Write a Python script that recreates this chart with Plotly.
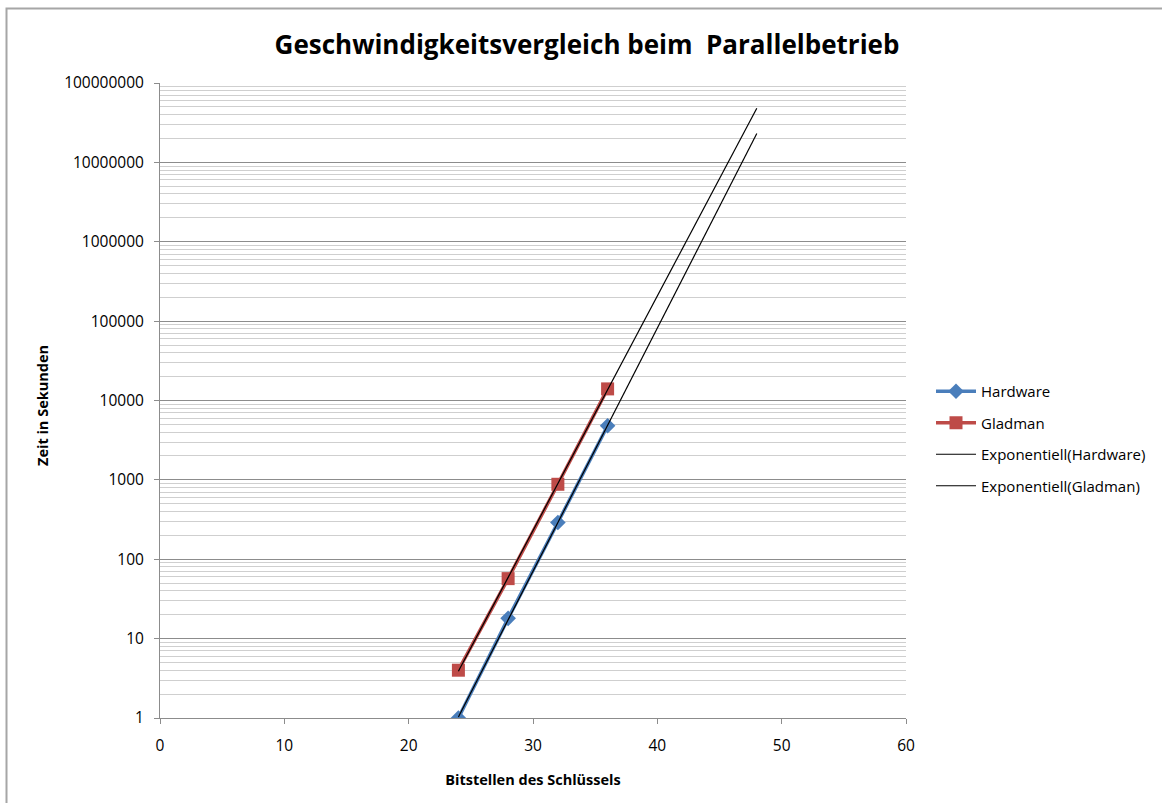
import numpy as np
import plotly.graph_objects as go

bits = [24, 28, 32, 36]
hardware = [1, 18, 290, 4800]
gladman = [4, 57, 880, 14000]
trend_x = [24, 48]
y_ticks = [1, 10, 100, 1000, 10000, 100000, 1000000, 10000000, 100000000]
x_ticks = [0, 10, 20, 30, 40, 50, 60]

def exp_fit(x, y, xs):
    b, a = np.polyfit(np.array(x, float), np.log10(np.array(y, float)), 1)
    xs = np.array(xs, float)
    return xs, 10 ** (a + b * xs)

W, H = 1162, 803
L, R, T, B = 160, 906, 83, 718

fig = go.Figure()
fig.add_trace(go.Scatter(x=bits, y=hardware, name="Hardware", mode="lines+markers",
                         legendgroup="a",
                         line=dict(color="#4a7ebb", width=3.5),
                         marker=dict(symbol="diamond", size=12, color="#4a7ebb")))
fig.add_trace(go.Scatter(x=bits, y=gladman, name="Gladman", mode="lines+markers",
                         legendgroup="b",
                         line=dict(color="#be4b48", width=3.5),
                         marker=dict(symbol="square", size=13, color="#be4b48")))
tx, ty = exp_fit(bits, hardware, trend_x)
fig.add_trace(go.Scatter(x=tx, y=ty, name="Exponentiell(Hardware)", mode="lines",
                         legendgroup="c",
                         line=dict(color="black", width=1.2)))
tx, ty = exp_fit(bits, gladman, trend_x)
fig.add_trace(go.Scatter(x=tx, y=ty, name="Exponentiell(Gladman)", mode="lines",
                         legendgroup="d",
                         line=dict(color="black", width=1.2)))

font_family = "Open Sans"
fig.update_layout(
    width=W, height=H,
    margin=dict(l=L, r=W - R, t=T, b=H - B),
    paper_bgcolor="white", plot_bgcolor="white",
    title=dict(text="<b>Geschwindigkeitsvergleich beim  Parallelbetrieb</b>",
               x=(272 + 902) / 2 / W, xanchor="center", y=1 - 45 / H, yanchor="middle",
               font=dict(family=font_family, size=26, color="black")),
    showlegend=True,
    legend=dict(xref="container", yref="container", x=931 / W, xanchor="left",
                y=1 - 375 / H, yanchor="top",
                font=dict(family=font_family, size=15, color="black"),
                tracegroupgap=9, itemwidth=40, bgcolor="rgba(0,0,0,0)"),
    font=dict(family=font_family, color="black"),
)
fig.update_xaxes(range=[0, 60], tickvals=x_ticks, showgrid=False, zeroline=False,
                 showline=True, linecolor="#8c8c8c", linewidth=1,
                 ticks="outside", ticklen=5, tickcolor="#8c8c8c",
                 ticklabelstandoff=8,
                 tickfont=dict(size=15.5, family=font_family),
                 title=dict(text="<b>Bitstellen des Schlüssels</b>", standoff=20,
                            font=dict(size=14.5, family=font_family)))
fig.update_yaxes(type="log", range=[0, 8], tickvals=y_ticks,
                 ticktext=[str(v) for v in y_ticks],
                 showgrid=True, gridcolor="#8c8c8c", gridwidth=1,
                 minor=dict(dtick="D1", showgrid=True, gridcolor="#cfcfcf", gridwidth=1, ticks=""),
                 zeroline=False, showline=True, linecolor="#8c8c8c", linewidth=1,
                 ticks="outside", ticklen=5, tickcolor="#8c8c8c",
                 ticklabelstandoff=7,
                 tickfont=dict(size=15.5, family=font_family))

fig.add_annotation(text="<b>Zeit in Sekunden</b>", xref="paper", yref="paper",
                   x=(42 - L) / (R - L), y=(B - 406) / (B - T),
                   xanchor="center", yanchor="middle", textangle=-90, showarrow=False,
                   font=dict(size=14.5, family=font_family, color="black"))

# chart border
fig.add_shape(type="rect", xref="paper", yref="paper",
              x0=(6.5 - L) / (R - L), x1=(W + 20 - L) / (R - L),
              y0=(B - (H + 20)) / (B - T), y1=(B - 8.5) / (B - T),
              line=dict(color="#a6a6a6", width=2), layer="below")

fig.write_html("out.html", config={"displayModeBar": False},
               post_script="document.body.style.margin='0';")
